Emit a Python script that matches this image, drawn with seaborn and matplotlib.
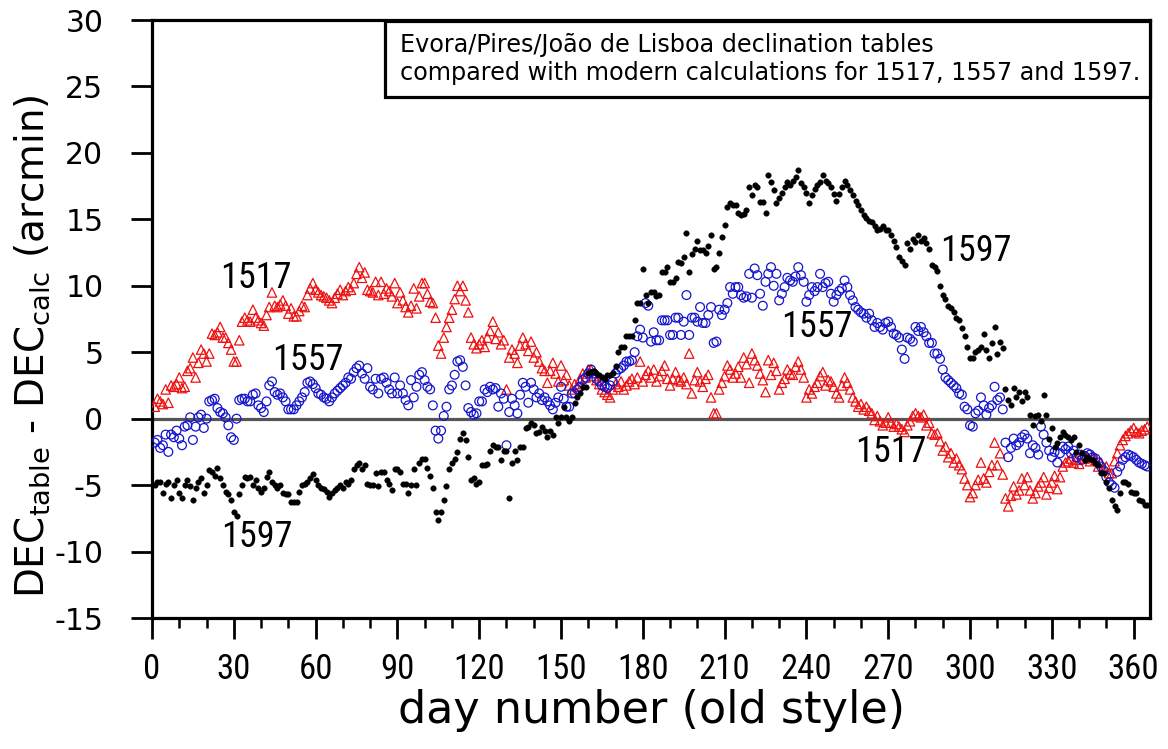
import numpy as np
import pandas as pd
import matplotlib
matplotlib.use("Agg")
import matplotlib.pyplot as plt
from matplotlib import font_manager
from matplotlib.patches import Rectangle
from matplotlib.ticker import MultipleLocator
import seaborn as sns

# ---------------------------------------------------------------- data
days = np.arange(1, 366)

# 1597: table minus computed declination (arcmin), one value per day
dec_1597 = [
    -5.0, -4.8, -4.8, -5.6, -4.9, -4.8, -6.0, -5.0, -4.6, -5.6,
    -6.0, -5.0, -4.6, -5.1, -6.1, -5.2, -4.8, -4.5, -5.6, -5.0,
    -3.9, -4.0, -4.3, -3.7, -4.5, -5.0, -5.5, -5.7, -6.1, -7.0,
    -7.3, -5.7, -5.0, -4.4, -4.5, -4.4, -5.0, -4.6, -5.2, -5.5,
    -5.2, -4.4, -4.0, -4.8, -5.0, -5.2, -5.0, -5.6, -5.7, -5.7,
    -6.3, -6.3, -6.3, -5.5, -5.0, -4.9, -4.8, -4.5, -4.2, -4.6,
    -5.0, -5.2, -5.3, -5.5, -5.9, -5.6, -5.4, -5.2, -5.0, -5.2,
    -4.8, -4.9, -4.6, -3.8, -3.5, -3.3, -3.8, -3.5, -4.9, -5.0,
    -5.0, -4.1, -5.1, -4.0, -4.0, -4.6, -4.9, -5.4, -3.8, -3.8,
    -4.0, -4.9, -4.9, -5.6, -5.0, -3.8, -5.0, -3.3, -3.0, -3.0,
    -3.7, -4.3, -5.2, -7.0, -7.6, -7.0, -6.1, -5.1, -3.8, -3.3,
    -3.0, -2.5, -1.5, -1.1, -1.6, -2.9, -4.6, -4.5, -4.9, -4.8,
    -3.5, -3.5, -3.4, -2.4, -2.0, -2.1, -2.1, -3.1, -2.4, -2.4,
    -6.0, -3.3, -2.4, -3.1, -2.1, -2.1, -0.7, -0.6, -0.3, -0.5,
    -1.1, -1.0, -0.6, -0.9, -1.4, -0.9, -1.2, 0.1, -0.3, 0.1,
    0.9, 0.1, -0.2, 0.1, 1.2, 1.6, 1.9, 2.4, 2.4, 3.4,
    3.5, 3.6, 3.4, 3.3, 3.1, 3.0, 3.3, 3.3, 3.4, 4.0,
    5.0, 5.4, 5.4, 6.2, 6.2, 6.2, 7.4, 8.7, 8.7, 11.3,
    9.3, 8.7, 9.5, 9.5, 9.2, 9.3, 11.0, 11.0, 11.4, 10.3,
    10.3, 10.6, 11.8, 11.7, 12.2, 14.0, 11.0, 12.4, 12.8, 13.4,
    12.7, 12.7, 12.5, 13.0, 13.8, 11.3, 11.4, 12.5, 13.7, 14.6,
    15.9, 16.2, 16.1, 16.1, 15.5, 15.3, 15.4, 15.7, 17.4, 16.8,
    17.6, 17.4, 16.3, 16.3, 15.5, 18.3, 17.8, 17.2, 16.2, 16.6,
    17.0, 17.4, 17.8, 17.6, 17.9, 18.2, 18.7, 17.7, 17.4, 17.0,
    16.2, 16.8, 17.3, 17.6, 17.8, 18.3, 17.9, 17.7, 17.4, 16.9,
    16.4, 16.9, 17.4, 17.9, 17.6, 17.2, 16.8, 16.4, 16.1, 15.7,
    15.3, 15.1, 14.9, 14.8, 14.5, 14.2, 14.3, 14.5, 14.2, 14.2,
    13.8, 13.4, 12.9, 12.2, 11.9, 11.6, 13.2, 12.8, 13.5, 13.3,
    13.8, 13.4, 13.6, 13.2, 12.8, 11.6, 11.4, 11.1, 10.0, 9.3,
    9.0, 8.5, 8.3, 8.0, 7.6, 7.4, 6.8, 6.2, 5.4, 4.6,
    4.6, 5.0, 5.2, 5.4, 6.4, 5.2, 4.6, 5.7, 6.9, 4.9,
    5.8, 5.3, 2.2, 1.4, 1.0, 2.3, 1.6, 2.0, 1.3, 2.0,
    1.6, 0.3, -0.5, 0.2, 0.3, -0.2, 1.8, 0.3, -1.5, -0.7,
    -2.1, -1.8, -1.4, -1.0, -1.2, -1.4, -1.6, -1.4, -2.5, -2.0,
    -2.6, -3.1, -2.9, -3.0, -3.1, -3.3, -3.5, -4.1, -4.1, -4.8,
    -5.2, -6.1, -6.6, -6.9, -5.6, -4.8, -4.8, -4.9, -5.5, -5.6,
    -5.6, -6.1, -6.2, -6.5, -6.5,
]

# 1557
dec_1557 = [
    -1.8, -1.6, -2.2, -2.0, -1.2, -2.5, -1.2, -1.4, -0.9, -1.5,
    -2.0, -0.6, -0.5, 0.1, -1.6, -0.6, 0.1, 0.3, -0.7, 0.0,
    1.3, 1.4, 1.5, 0.8, 0.5, 0.4, 0.1, -0.5, -1.4, -1.6,
    0.0, 1.4, 1.5, 1.5, 1.3, 1.3, 1.8, 1.9, 1.0, 0.8,
    0.5, 1.3, 2.5, 2.8, 2.0, 1.8, 1.9, 1.6, 1.3, 0.7,
    0.7, 0.7, 1.0, 1.3, 1.6, 2.0, 2.7, 2.8, 2.6, 2.3,
    1.9, 1.8, 1.6, 1.5, 1.3, 1.6, 1.9, 2.1, 2.3, 2.5,
    2.7, 3.1, 3.0, 3.5, 3.8, 4.0, 3.4, 3.0, 3.8, 2.4,
    2.2, 3.0, 1.9, 3.0, 3.1, 2.7, 2.2, 1.9, 3.1, 1.9,
    2.5, 1.9, 1.4, 1.0, 2.9, 1.6, 2.4, 3.3, 3.5, 2.9,
    2.4, 2.2, 1.0, -0.9, -1.5, -0.9, 0.2, 0.9, 2.2, 2.5,
    3.3, 4.3, 4.4, 3.9, 2.5, 0.8, 0.5, 0.3, 0.4, 1.3,
    1.3, 2.2, 2.0, 2.4, 2.2, 2.3, 0.9, 1.9, 1.5, -2.0,
    0.5, 1.5, 1.0, 0.4, 1.8, 2.7, 2.4, 1.2, 2.7, 2.2,
    1.6, 1.9, 1.4, 1.6, 1.3, 1.0, 0.7, 1.2, 1.6, 2.4,
    1.5, 0.9, 0.9, 1.9, 1.9, 2.2, 2.4, 2.9, 3.1, 3.4,
    3.7, 3.4, 3.0, 2.8, 2.5, 2.4, 2.3, 2.5, 2.8, 3.4,
    3.7, 3.8, 4.0, 4.3, 4.3, 4.4, 5.0, 6.2, 6.7, 6.1,
    8.7, 8.5, 5.8, 6.5, 5.9, 5.9, 7.4, 7.4, 7.4, 6.3,
    6.3, 7.6, 7.6, 6.3, 7.3, 9.3, 6.3, 7.6, 7.6, 7.3,
    8.4, 7.2, 7.2, 7.8, 8.4, 5.7, 5.8, 8.2, 7.8, 8.2,
    8.7, 9.9, 9.4, 9.9, 9.9, 9.3, 9.1, 9.2, 10.9, 9.1,
    11.3, 10.8, 9.4, 8.5, 10.3, 10.9, 11.4, 10.0, 10.9, 8.9,
    9.4, 9.9, 10.6, 10.4, 10.3, 10.7, 11.4, 10.8, 10.3, 8.8,
    9.3, 9.9, 9.6, 9.9, 10.9, 9.9, 10.2, 10.3, 9.4, 8.8,
    9.3, 9.6, 9.8, 10.4, 9.9, 9.3, 8.9, 8.4, 8.2, 8.0,
    7.9, 7.6, 7.9, 7.4, 6.9, 7.2, 6.9, 6.7, 7.2, 7.3,
    6.9, 6.4, 6.3, 6.1, 5.2, 4.5, 6.1, 6.0, 5.8, 6.9,
    6.6, 6.9, 6.5, 6.2, 5.7, 5.7, 4.9, 4.9, 4.5, 3.7,
    3.1, 2.9, 2.7, 2.5, 2.3, 1.9, 1.8, 0.9, 0.7, -0.5,
    -0.6, 0.4, 0.6, 1.6, 1.0, 0.3, 0.8, 1.0, 2.4, 1.4,
    1.6, 0.7, -1.8, -2.9, -2.2, -1.5, -2.0, -1.8, -1.4, -1.2,
    -1.5, -2.6, -2.0, -2.2, -2.7, -0.6, -1.2, -1.8, -2.4, -2.9,
    -2.5, -3.3, -2.6, -2.1, -2.3, -2.1, -2.6, -2.4, -2.9, -2.7,
    -3.1, -2.8, -2.6, -2.7, -2.9, -3.0, -3.3, -3.6, -3.9, -4.4,
    -4.8, -5.0, -5.2, -4.0, -3.6, -3.1, -2.9, -2.7, -2.8, -2.9,
    -3.1, -3.3, -3.4, -3.5, -3.6,
]

# 1517
dec_1517 = [
    0.9, 1.5, 1.3, 1.1, 2.2, 1.2, 2.5, 2.4, 2.6, 3.1,
    2.3, 2.4, 3.6, 3.8, 4.6, 3.1, 4.2, 5.2, 4.9, 4.3,
    4.9, 6.4, 6.3, 6.5, 6.9, 6.1, 6.1, 5.7, 5.2, 4.3,
    4.3, 5.9, 7.3, 7.6, 7.4, 7.3, 8.2, 7.6, 7.4, 7.2,
    7.0, 7.8, 8.4, 9.5, 8.5, 8.4, 8.6, 8.9, 8.5, 7.9,
    8.3, 7.7, 7.7, 8.1, 8.5, 8.4, 9.3, 9.8, 10.2, 9.7,
    9.5, 9.3, 9.2, 9.1, 8.9, 8.7, 9.1, 9.4, 9.7, 9.3,
    9.6, 9.9, 9.7, 10.2, 10.9, 11.4, 10.6, 11.0, 9.7, 9.6,
    9.5, 10.3, 9.3, 10.3, 9.4, 9.8, 9.6, 9.2, 10.2, 8.7,
    9.5, 8.9, 8.4, 8.0, 8.5, 9.8, 8.3, 9.2, 10.2, 10.2,
    9.4, 8.8, 8.7, 7.6, 5.5, 4.9, 6.1, 6.9, 7.6, 8.2,
    9.0, 10.0, 9.6, 10.0, 8.9, 8.0, 6.1, 5.6, 5.3, 5.6,
    5.9, 5.4, 6.1, 6.6, 7.3, 6.0, 6.5, 5.6, 5.9, 2.2,
    4.6, 5.2, 4.9, 4.2, 5.5, 6.1, 5.6, 5.1, 5.8, 4.6,
    5.0, 4.3, 3.8, 3.6, 2.7, 3.6, 4.2, 3.4, 2.8, 4.0,
    2.9, 3.3, 2.5, 2.2, 2.6, 2.4, 3.0, 3.4, 3.1, 3.7,
    3.7, 3.2, 2.9, 2.6, 2.2, 2.0, 1.8, 1.6, 2.2, 2.6,
    2.4, 2.8, 2.2, 2.5, 2.8, 3.0, 2.6, 3.1, 4.3, 2.8,
    3.3, 3.6, 3.1, 3.7, 2.8, 3.2, 3.6, 4.0, 3.0, 2.5,
    3.0, 3.5, 2.9, 2.8, 3.1, 2.6, 4.9, 1.9, 2.9, 3.5,
    2.8, 2.4, 3.0, 3.3, 1.6, 0.4, 0.4, 2.2, 2.7, 3.2,
    4.0, 3.7, 3.1, 3.4, 3.9, 3.1, 4.6, 4.1, 2.7, 4.9,
    4.4, 4.0, 3.4, 2.9, 2.0, 4.4, 3.3, 4.2, 3.6, 2.2,
    2.7, 3.0, 3.7, 3.4, 3.3, 3.9, 4.3, 3.7, 3.1, 1.6,
    2.2, 1.9, 2.4, 2.7, 3.2, 3.5, 2.5, 2.9, 2.8, 2.4,
    1.9, 1.6, 2.5, 3.1, 2.7, 2.2, 1.6, 1.3, 0.9, 1.1,
    0.7, 0.9, 0.6, 0.4, -0.1, 0.2, -0.2, -0.5, -0.3, 0.1,
    -0.3, -0.6, -0.4, -0.6, -0.8, -1.0, -0.5, -0.2, 0.2, 0.4,
    0.2, 0.1, 0.3, -0.5, -0.3, -1.1, -1.2, -1.1, -1.7, -2.4,
    -2.1, -2.9, -2.6, -3.3, -3.0, -3.5, -3.8, -4.5, -5.0, -5.9,
    -5.6, -5.0, -4.6, -3.3, -4.5, -4.8, -4.0, -3.5, -1.8, -3.5,
    -2.6, -4.2, -6.0, -6.6, -5.8, -5.1, -5.7, -5.4, -4.5, -5.0,
    -4.4, -5.4, -6.0, -5.6, -5.1, -4.8, -4.4, -5.7, -5.2, -4.8,
    -4.3, -5.3, -4.4, -3.6, -3.3, -3.2, -3.0, -3.3, -3.1, -3.4,
    -2.7, -3.0, -2.9, -3.2, -2.9, -3.1, -3.6, -3.3, -3.8, -3.6,
    -4.1, -4.1, -3.2, -2.6, -2.0, -1.6, -1.3, -1.1, -0.9, -0.7,
    -1.0, -1.1, -0.9, -0.8, -0.6,
]

# series labels: (text, day, value)
series_labels = [
    ("1517", 38, 10.6), ("1557", 57, 4.4), ("1597", 38.5, -8.9),
    ("1557", 244, 6.9), ("1597", 302, 12.6), ("1517", 271, -2.5),
]
x_ticks = list(range(0, 361, 30))
y_ticks = list(range(-15, 31, 5))
box_lines = ["Evora/Pires/João de Lisboa declination tables",
             "compared with modern calculations for 1517, 1557 and 1597."]

df = pd.DataFrame({"day": np.concatenate([days, days, days]),
                   "dec": dec_1517 + dec_1557 + dec_1597,
                   "year": ["1517"] * 365 + ["1557"] * 365 + ["1597"] * 365})

# ---------------------------------------------------------------- style
sns.set_style("ticks")
available = {f.name for f in font_manager.fontManager.ttflist}
narrow = next((f for f in ["Liberation Sans Narrow", "DejaVu Sans Condensed",
                           "Roboto Condensed", "Open Sans Condensed"]
               if f in available), "DejaVu Sans")
plt.rcParams.update({
    "font.family": ["DejaVu Sans"],
    "mathtext.fontset": "dejavusans",
    "axes.unicode_minus": False,
    "text.color": "black",
    "axes.labelcolor": "black",
    "xtick.color": "black",
    "ytick.color": "black",
})

fig = plt.figure(figsize=(11.68, 7.49), dpi=100)
ax = fig.add_axes([152 / 1168, 1 - 618 / 749, 998 / 1168, 598 / 749])

ax.axhline(0, color="#555555", lw=2.3, zorder=1)

styles = {
    "1517": dict(marker="^", s=46, facecolors="none", edgecolors="#ee1111",
                 color="#ee1111", linewidths=0.9),
    "1557": dict(marker="o", s=40, facecolors="none", edgecolors="#1515cc",
                 color="#1515cc", linewidths=0.9),
    "1597": dict(marker="o", s=16, color="black", edgecolors="black",
                 linewidths=0.3),
}
for yr in ["1517", "1557", "1597"]:
    sub = df[df["year"] == yr]
    sns.scatterplot(data=sub, x="day", y="dec", ax=ax, legend=False,
                    zorder=3, **styles[yr])

for txt, d, v in series_labels:
    ax.text(d, v, txt, ha="center", va="center", fontsize=26,
            family=narrow, color="black", zorder=5)

# axes
ax.set_xlim(0, 366)
ax.set_ylim(-15, 30)
ax.set_xticks(x_ticks)
ax.xaxis.set_minor_locator(MultipleLocator(10))
ax.set_yticks(y_ticks)
for sp in ax.spines.values():
    sp.set_linewidth(2.3)
    sp.set_color("black")
ax.tick_params(axis="x", which="major", direction="out", length=15,
               width=2.0, color="black", pad=10, labelsize=25)
ax.tick_params(axis="x", which="minor", direction="out", length=7,
               width=1.8, color="black")
ax.tick_params(axis="y", which="major", direction="out", length=15,
               width=2.0, color="black", pad=20, labelsize=21.5)
ax.tick_params(axis="y", which="minor", left=False)
for lab in ax.get_xticklabels():
    lab.set_fontfamily(narrow)

ax.set_xlabel("day number (old style)", fontsize=32, labelpad=2)
ax.set_ylabel(r"DEC$_{\mathregular{table}}$ - DEC$_{\mathregular{calc}}$ (arcmin)",
              fontsize=28)
ax.yaxis.set_label_coords(-0.10, 0.455)

# description box in the upper right corner
ax.add_patch(Rectangle((0.2335, 0.871), 0.7665, 0.127, transform=ax.transAxes,
                       facecolor="white", edgecolor="black", lw=2.3,
                       zorder=6, clip_on=False))
ax.text(0.2485, 0.958, box_lines[0], transform=ax.transAxes, fontsize=17.2,
        ha="left", va="center", zorder=7)
ax.text(0.2485, 0.912, box_lines[1], transform=ax.transAxes, fontsize=17.2,
        ha="left", va="center", zorder=7)

fig.savefig("out.png", dpi=100)
